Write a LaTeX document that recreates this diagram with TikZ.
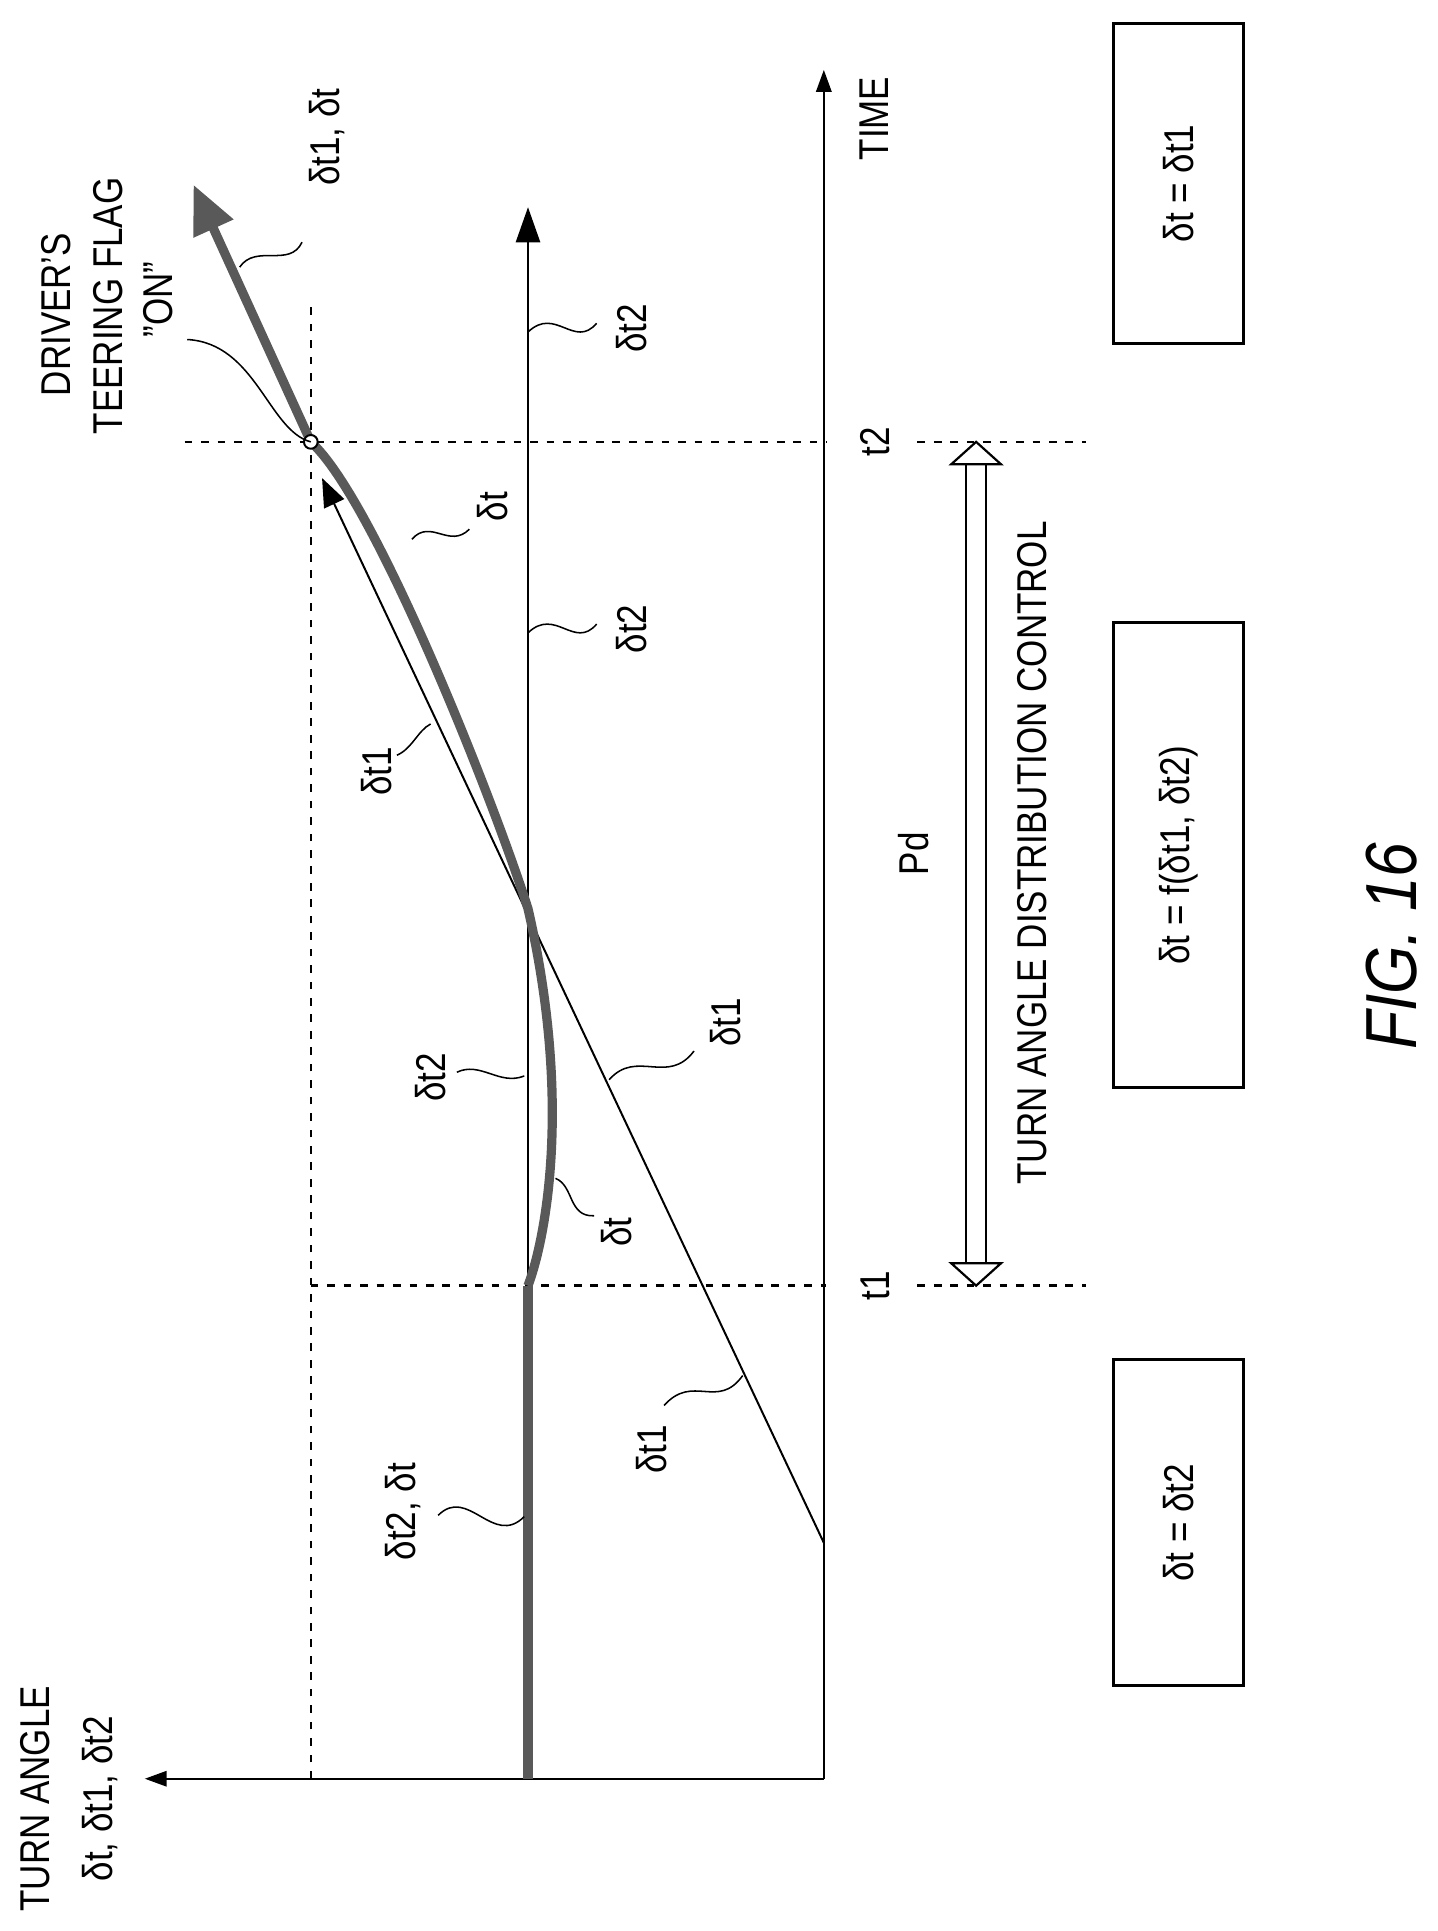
\documentclass[tikz,border=0pt]{standalone}
\usepackage{fontspec}
\setmainfont[FakeStretch=0.84]{Liberation Sans}
\newfontfamily\figfont[FakeStretch=0.86]{Liberation Sans}
\usetikzlibrary{arrows.meta}
\begin{document}
\begin{tikzpicture}[x=0.02cm,y=-0.02cm,
  ax/.style={line width=1pt,-{Triangle[length=10pt,width=7pt]}},
  thk/.style={line width=4.2pt,draw=black!65},
  dotl/.style={line width=1.1pt,dash pattern=on 3.5pt off 4pt},
  lbl/.style={rotate=90,font=\fontsize{19}{23}\selectfont,inner sep=1pt},
  lead/.style={line width=0.7pt},
  dbl/.style={line width=1pt},
  box/.style={draw,line width=1.4pt,minimum width=104*0.02cm,inner sep=0pt}]
\useasboundingbox (0,0) rectangle (1152,1547);
% coordinates
\coordinate (O) at (660,1425);
\coordinate (Tend) at (660,56);
\coordinate (Aend) at (116,1425);
\coordinate (d1s) at (660,1236);
\coordinate (d2s) at (423,1425);
\coordinate (d2t1) at (423,1030);
\coordinate (d2e) at (423,166);
\coordinate (X) at (249,354);
\coordinate (d1e) at (258,383);
\coordinate (d1a) at (155,148);
\coordinate (C) at (423,728);
% axes
\draw[ax] (O) -- (Tend);
\draw[ax] (O) -- (Aend);
% dotted guides
\draw[dotl] (249,1425) -- (249,245);
\draw[dotl] (249,1030) -- (662,1030) (735,1030) -- (870,1030);
\draw[dotl] (148,354) -- (662,354) (735,354) -- (870,354);
% delta t2
\draw[thk] (d2s) -- (d2t1);
\draw[line width=1pt,-{Triangle[length=16pt,width=11pt]}] (d2t1) -- (d2e);
% delta t1 thin
\draw[line width=0.9pt,-{Triangle[length=13pt,width=10pt]}] (d1s) -- (d1e);
% delta t thick curve
\draw[thk] (d2t1) .. controls (438,990) and (458,880) .. (C)
  .. controls (395,640) and (300,400) .. (X);
\draw[thk,-{Triangle[length=22pt,width=19pt]}] (X) -- (d1a);
\draw[fill=white,line width=0.9pt] (X) circle (5.5);
% Pd double arrow
\coordinate (p1) at (782,1030); \coordinate (p2) at (782,354);
\draw[dbl] (774,1012) -- (774,372) (790,1012) -- (790,372);
\draw[dbl,line join=miter] (p1) -- (762,1012) -- (802,1012) -- cycle;
\draw[dbl,line join=miter] (p2) -- (762,372) -- (802,372) -- cycle;
% labels
\node[lbl] (ta) at (28,1441) {TURN ANGLE};
\node[lbl] (tb) at (80,1441) {δt, δt1, δt2};
\node[lbl] (time) at (700,95) {TIME};
\node[lbl] (lt1) at (701,1030) {t1};
\node[lbl] (lt2) at (701,354) {t2};
\node[lbl] (dr1) at (45,252) {DRIVER'S};
\node[lbl] (dr2) at (87,245) {TEERING FLAG};
\node[lbl] (dr3) at (127,240) {"ON"};
\node[lbl] (pd) at (732,684) {Pd};
\node[lbl,anchor=west] (tadc) at (827,951) {TURN ANGLE DISTRIBUTION CONTROL};
\node[lbl,font=\fontsize{33}{36}\selectfont\figfont\itshape] (fig) at (1115,758) {FIG. 16};
\node[lbl] (L1) at (262,110) {δt1, δt};
\node[lbl] (L2) at (506,263) {δt2};
\node[lbl] (L3) at (395,406) {δt};
\node[lbl] (L4) at (506,504) {δt2};
\node[lbl] (L5) at (302,618) {δt1};
\node[lbl] (L6) at (345,863) {δt2};
\node[lbl] (L7) at (581,819) {δt1};
\node[lbl] (L8) at (494,987) {δt};
\node[lbl] (L9) at (522,1161) {δt1};
\node[lbl] (L10) at (323,1211) {δt2, δt};
% leaders
\draw[lead] (192,214) .. controls (205,195) and (232,215) .. (242,194);
\draw[lead] (423,266) .. controls (445,245) and (460,280) .. (478,259);
\draw[lead] (330,432) .. controls (345,415) and (360,440) .. (376,424);
\draw[lead] (423,507) .. controls (445,486) and (460,521) .. (478,500);
\draw[lead] (345,580) .. controls (335,585) and (330,600) .. (318,605);
\draw[lead] (420,862) .. controls (400,870) and (385,850) .. (366,859);
\draw[lead] (488,865) .. controls (510,840) and (535,870) .. (556,842);
\draw[lead] (445,944) .. controls (460,950) and (455,975) .. (476,974);
\draw[lead] (595,1102) .. controls (575,1130) and (555,1100) .. (532,1126);
\draw[lead] (420,1215) .. controls (395,1240) and (375,1190) .. (351,1214);
\draw[lead] (X) .. controls (215,345) and (205,275) .. (150,272);
% boxes
\node[box,minimum height=261*0.02cm] (b2) at (944,1220) {};
\node[lbl] at (b2) {δt = δt2};
\node[box,minimum height=372*0.02cm] (bf) at (944,685) {};
\node[lbl] at (bf) {δt = f(δt1, δt2)};
\node[box,minimum height=257*0.02cm] (b1) at (944,147) {};
\node[lbl] at (b1) {δt = δt1};
\end{tikzpicture}
\end{document}
